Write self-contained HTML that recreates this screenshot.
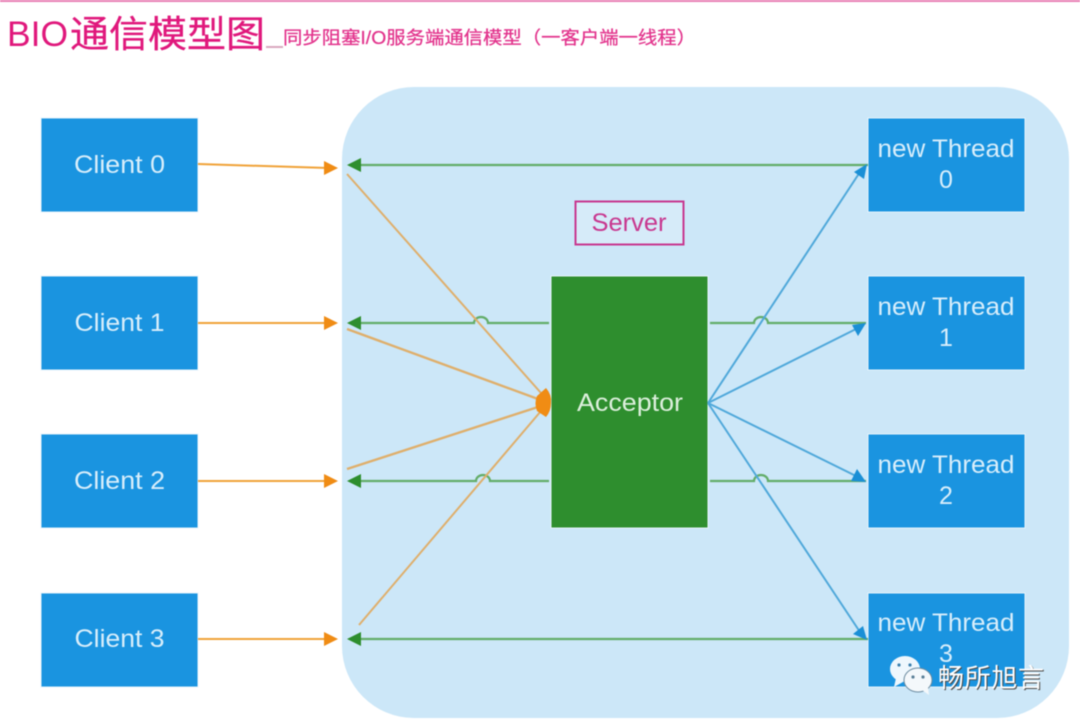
<!DOCTYPE html>
<html lang="zh">
<head>
<meta charset="utf-8">
<style>
html,body{margin:0;padding:0;background:#fff}
svg{display:block;filter:blur(.6px)}
text{font-family:"Liberation Sans","Noto Sans CJK SC",sans-serif}
</style>
</head>
<body>
<svg width="1080" height="725" viewBox="0 0 1080 725" xmlns="http://www.w3.org/2000/svg">
<rect width="1080" height="725" fill="#fff"/>
<rect x="0" y="0" width="1080" height="2" fill="#e87fb4"/>

<text x="7" y="46" font-size="35" fill="#e0187c" textLength="61" lengthAdjust="spacingAndGlyphs">BIO</text>
<text x="70" y="47" font-size="37" fill="#e0187c" stroke="#e0187c" stroke-width=".3" textLength="195" lengthAdjust="spacingAndGlyphs">通信模型图</text>
<rect x="266" y="46" width="17" height="2" fill="#d9a8bf"/>
<text x="283" y="44" font-size="18" fill="#e2338c" stroke="#e2338c" stroke-width=".25" textLength="413" lengthAdjust="spacingAndGlyphs">同步阻塞I/O服务端通信模型（一客户端一线程）</text>

<rect x="342" y="87" width="727" height="631" rx="72" ry="72" fill="#cce7f8"/>

<g fill="#1a94e0" stroke="#e6f3fb" stroke-width="1">
<rect x="41" y="118" width="157" height="94"/>
<rect x="41" y="276" width="157" height="94"/>
<rect x="41" y="434" width="157" height="94"/>
<rect x="41" y="593" width="157" height="94"/>
<rect x="868" y="118" width="157" height="94"/>
<rect x="868" y="276" width="157" height="94"/>
<rect x="868" y="434" width="157" height="94"/>
<rect x="868" y="593" width="157" height="94"/>
</g>
<rect x="551" y="276" width="157" height="252" fill="#2e8e2e" stroke="#e6f3fb" stroke-width="1"/>
<rect x="575.500" y="201.500" width="108" height="43" fill="#e8f3fb" fill-opacity=".35" stroke="#c8378f" stroke-width="2"/>

<!-- green connectors -->
<g fill="none" stroke="#63ad69" stroke-width="2.200">
<path d="M358 165H868"/>
<path d="M358 323H474a7 6 0 0 1 14 0H549"/>
<path d="M358 481H476a7 6 0 0 1 14 0H549"/>
<path d="M358 639H868"/>
<path d="M710 323H754a7 6 0 0 1 14 0H866"/>
<path d="M710 481H754a7 6 0 0 1 14 0H866"/>
</g>
<g fill="#2e8e2e">
<path d="M347 165l14-7v14z"/>
<path d="M347 323l14-7v14z"/>
<path d="M347 481l14-7v14z"/>
<path d="M347 639l14-7v14z"/>
</g>

<!-- orange client to server -->
<g stroke="#f0a238" stroke-width="2" fill="none">
<path d="M198 164L328 168"/>
<path d="M198 323H328"/>
<path d="M198 481H328"/>
<path d="M198 639H328"/>
</g>
<g fill="#f08c14">
<path d="M338 168l-14 7v-14z"/>
<path d="M338 323l-14 7v-14z"/>
<path d="M338 481l-14 7v-14z"/>
<path d="M338 639l-14 7v-14z"/>
</g>

<!-- orange to acceptor -->
<g stroke="#dfaf6c" stroke-width="2" fill="none">
<path d="M347 174L541 393"/>
<path d="M347 329L538 399" stroke-width="2.400"/>
<path d="M347 469L538 407" stroke-width="2.400"/>
<path d="M359 625L541 411"/>
</g>
<path d="M546 388Q552 395 551 403Q551 411 546 417L537 411Q534 403 537 396Z" fill="#f08c14"/>

<!-- blue thread lines -->
<g stroke="#4fa8da" stroke-width="2" fill="none">
<path d="M708 403L860 172"/>
<path d="M708 403L858 328"/>
<path d="M708 403L858 477"/>
<path d="M708 403L860 632"/>
</g>
<g fill="#1a8fd6">
<path d="M867 164l-3 15-10-7z"/>
<path d="M866 323l-8 13-6-11z"/>
<path d="M866 482l-15-1 6-12z"/>
<path d="M867 640l-14-6 10-8z"/>
</g>

<g font-size="25" fill="#d8eefb" text-anchor="middle">
<text x="119.500" y="173" textLength="91" lengthAdjust="spacingAndGlyphs">Client 0</text>
<text x="119.500" y="331" textLength="90" lengthAdjust="spacingAndGlyphs">Client 1</text>
<text x="119.500" y="489" textLength="91" lengthAdjust="spacingAndGlyphs">Client 2</text>
<text x="119.500" y="647" textLength="90" lengthAdjust="spacingAndGlyphs">Client 3</text>
<text x="946" y="157" textLength="137" lengthAdjust="spacingAndGlyphs">new Thread</text>
<text x="946" y="188">0</text>
<text x="946" y="315" textLength="137" lengthAdjust="spacingAndGlyphs">new Thread</text>
<text x="946" y="346">1</text>
<text x="946" y="473" textLength="137" lengthAdjust="spacingAndGlyphs">new Thread</text>
<text x="946" y="504">2</text>
<text x="946" y="631" textLength="137" lengthAdjust="spacingAndGlyphs">new Thread</text>
<text x="946" y="662">3</text>
<text x="630" y="411" textLength="106" lengthAdjust="spacingAndGlyphs" fill="#dcefdc">Acceptor</text>
<text x="629" y="231" textLength="75" lengthAdjust="spacingAndGlyphs" fill="#c8378f">Server</text>
</g>

<!-- watermark -->
<g>
<ellipse cx="905" cy="669" rx="15" ry="13" fill="#eef7fd"/>
<path d="M896 678l-2 9 9-5z" fill="#eef7fd"/>
<ellipse cx="918" cy="680" rx="14" ry="12" fill="#f4f8fb" stroke="#6b8ba0" stroke-width="1"/>
<path d="M922 690l7 5-1-8z" fill="#f4f8fb"/>
<circle cx="899" cy="665" r="1.600" fill="#3a7fae"/>
<circle cx="910" cy="665" r="1.600" fill="#3a7fae"/>
<circle cx="913" cy="677" r="1.600" fill="#5b7f97"/>
<circle cx="923" cy="677" r="1.600" fill="#5b7f97"/>
<text x="938" y="687" font-size="26" fill="#4a4a4a" textLength="106" lengthAdjust="spacing" dx="1" dy="1">畅所旭言</text>
<text x="938" y="687" font-size="26" fill="#ffffff" textLength="106" lengthAdjust="spacing">畅所旭言</text>
</g>
</svg>
</body>
</html>
